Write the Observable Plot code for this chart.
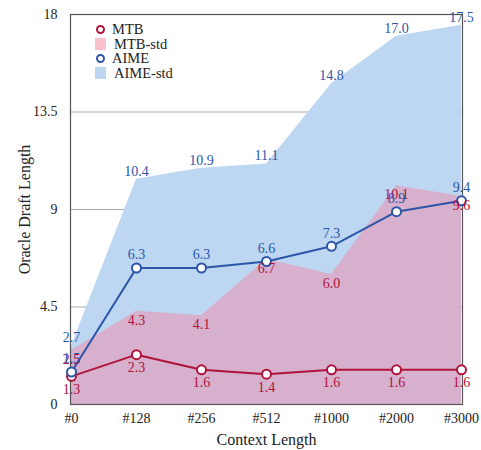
<!DOCTYPE html>
<html><head><meta charset="utf-8">
<script src="https://cdn.jsdelivr.net/npm/d3@7"></script>
<script src="https://cdn.jsdelivr.net/npm/@observablehq/plot@0.6"></script>
<style>
body{margin:0;background:#fff;font-family:'Liberation Serif',serif;}
#wrap{position:relative;width:481px;height:450px;}
#legend{position:absolute;left:92px;top:22px;font-size:14.5px;color:#222;line-height:14.5px;font-family:'Liberation Serif',serif;}
#legend div{display:flex;align-items:center;height:14.5px;}
.mk{width:9px;height:9px;border-radius:50%;background:#fff;box-sizing:border-box;border:2px solid;margin:0 7px 0 4px;}
.sw{width:11px;height:12px;margin:0 8px 0 3px;}
svg text{font-family:'Liberation Serif',serif;}
</style></head>
<body><div id="wrap"><div id="chart"></div>
<div id="legend">
<div><span class="mk" style="border-color:#b0123b"></span>MTB</div>
<div><span class="sw" style="background:#f8c2cc"></span>MTB-std</div>
<div><span class="mk" style="border-color:#2c55a8"></span>AIME</div>
<div><span class="sw" style="background:#bdd7f3"></span>AIME-std</div>
</div></div>
<script>
const categories = ["#0","#128","#256","#512","#1000","#2000","#3000"];
const mtb = [1.3, 2.3, 1.6, 1.4, 1.6, 1.6, 1.6];
const mtbStd = [2.5, 4.3, 4.1, 6.7, 6.0, 10.1, 9.6];
const aime = [1.5, 6.3, 6.3, 6.6, 7.3, 8.9, 9.4];
const aimeStd = [2.7, 10.4, 10.9, 11.1, 14.8, 17.0, 17.5];
const yTicks = [0, 4.5, 9, 13.5, 18];

const rows = categories.map((c,i)=>({c, mtb:mtb[i], mtbStd:mtbStd[i], aime:aime[i], aimeStd:aimeStd[i]}));
const red = "#b0123b", blue = "#2c55a8";
const fmt = d => d.toFixed(1);

const chart = Plot.plot({
  width: 481, height: 450,
  marginLeft: 70, marginRight: 19, marginTop: 14, marginBottom: 46,
  style: {fontFamily: "'Liberation Serif', serif", fontSize: "14px", color: "#222", background: "transparent"},
  x: {type: "point", domain: categories, padding: 0, label: "Context Length", labelAnchor: "center", labelArrow: "none", labelOffset: 40, tickSize: 0, tickPadding: 9},
  y: {domain: [0, 18], ticks: yTicks, tickFormat: d => String(d), label: "Oracle Draft Length", labelAnchor: "center", labelArrow: "none", labelOffset: 52, tickSize: 0, tickPadding: 13},
  marks: [
    Plot.gridY(yTicks.filter(t => t > 0 && t < 18), {stroke: "#aaa", strokeOpacity: 1, strokeWidth: 1}),
    Plot.areaY(rows, {x: "c", y1: 0, y2: "aimeStd", fill: "#bdd7f3", curve: "linear"}),
    Plot.areaY(rows, {x: "c", y1: 0, y2: "mtbStd", fill: "#f08aa6", fillOpacity: 0.5, curve: "linear"}),
    Plot.frame({stroke: "#555", strokeWidth: 1.2}),
    Plot.line(rows, {x: "c", y: "mtb", stroke: red, strokeWidth: 2}),
    Plot.line(rows, {x: "c", y: "aime", stroke: blue, strokeWidth: 2}),
    Plot.dot(rows, {x: "c", y: "mtb", r: 4.5, fill: "#fff", stroke: red, strokeWidth: 2}),
    Plot.dot(rows, {x: "c", y: "aime", r: 4.5, fill: "#fff", stroke: blue, strokeWidth: 2}),
    Plot.text(rows, {x: "c", y: "mtbStd", text: d => fmt(d.mtbStd), dy: 9, fill: red, fontSize: 14}),
    Plot.text(rows, {x: "c", y: "aimeStd", text: d => fmt(d.aimeStd), dy: -8, fill: blue, fontSize: 14}),
    Plot.text(rows, {x: "c", y: "mtb", text: d => fmt(d.mtb), dy: 13, fill: red, fontSize: 14}),
    Plot.text(rows, {x: "c", y: "aime", text: d => fmt(d.aime), dy: -13, fill: blue, fontSize: 14})
  ]
});
chart.querySelectorAll("[aria-label='x-axis label'] text, [aria-label='y-axis label'] text").forEach(t => t.style.fontSize = "16px");
document.getElementById("chart").append(chart);
</script></body></html>
